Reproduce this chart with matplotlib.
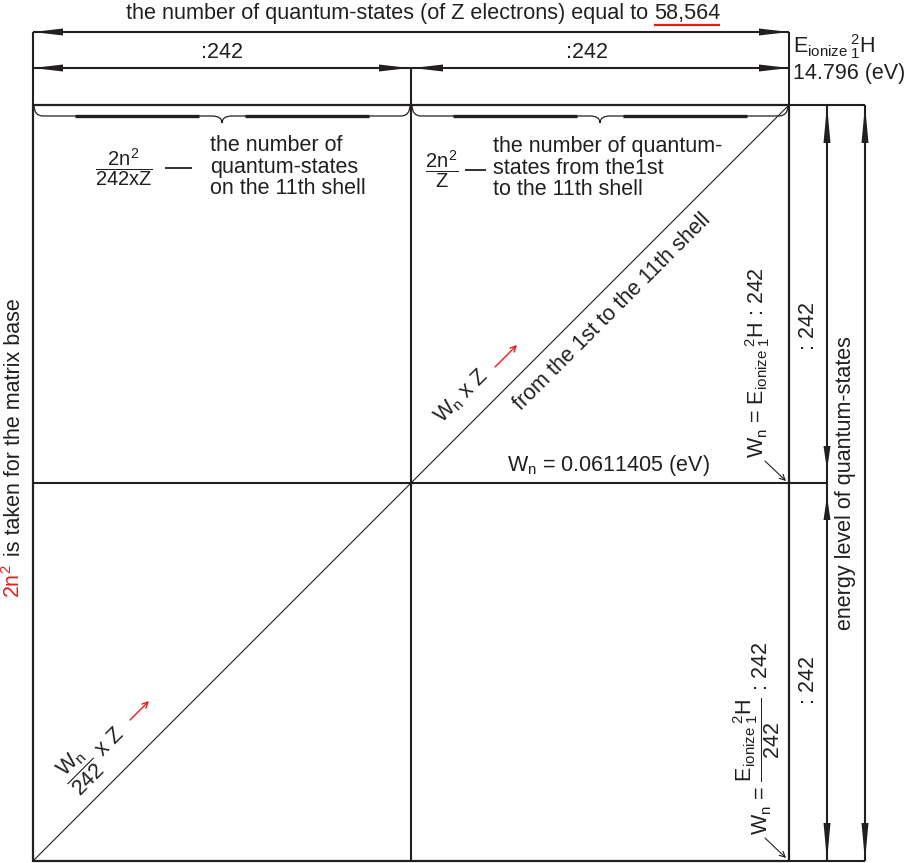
import matplotlib
matplotlib.use('Agg')
import numpy as np
import matplotlib.pyplot as plt
from matplotlib.path import Path
from matplotlib.patches import PathPatch, Polygon

plt.rcParams['font.family'] = ['Liberation Sans', 'DejaVu Sans']
plt.rcParams['mathtext.fontset'] = 'custom'
plt.rcParams['mathtext.rm'] = 'Liberation Sans'
plt.rcParams['mathtext.it'] = 'Liberation Sans'
plt.rcParams['mathtext.bf'] = 'Liberation Sans:bold'

# values shown on the diagram
divisor = 242
total_states = '58,564'
e_ionize = '14.796'
w_n = '0.0611405'
shell = '11th'

title_txt = 'the number of quantum-states (of Z electrons) equal to'
left_label = 'is taken for the matrix base'
right_label = 'energy level of quantum-states'
tl_lines = ['the number of', 'quantum-states', 'on the %s shell' % shell]
tr_lines = ['the number of quantum-', 'states from the1st', 'to the %s shell' % shell]
diag_label = 'from the 1st to the %s shell' % shell

K = '#231f20'
FS = 15.5

W, H = 914, 863
fig = plt.figure(figsize=(W / 100, H / 100), dpi=100)
ax = fig.add_axes([0, 0, 1, 1])
ax.set_xlim(0, W)
ax.set_ylim(H, 0)
ax.axis('off')

# matrix square
L, R, T, B = 33, 789, 105, 861
MX, MY = (L + R) / 2, (T + B) / 2
X1, X2 = 827, 865


def line(xs, ys, lw=1.5, c=K):
    ax.plot(xs, ys, color=c, lw=lw, solid_capstyle='butt')


def head(x, y, dx, dy, length=30, width=7):
    d = np.array([dx, dy], float)
    d /= np.linalg.norm(d)
    p = np.array([-d[1], d[0]])
    base = np.array([x, y]) - d * length
    ax.add_patch(Polygon([(x, y), base + p * width / 2, base - p * width / 2],
                         closed=True, fc=K, ec='none'))


def brace(x0, x1, ytop=105, yh=116, ytip=123):
    m = (x0 + x1) / 2
    verts = [(x0 + 1, ytop), (x0 + 1, yh), (x0 + 10, yh), (m - 10, yh), (m, yh), (m, ytip),
             (m, yh), (m + 10, yh), (x1 - 10, yh), (x1 - 1, yh), (x1 - 1, ytop)]
    codes = [Path.MOVETO, Path.CURVE3, Path.CURVE3, Path.LINETO, Path.CURVE3, Path.CURVE3,
             Path.CURVE3, Path.CURVE3, Path.LINETO, Path.CURVE3, Path.CURVE3]
    ax.add_patch(PathPatch(Path(verts, codes), fc='none', ec=K, lw=0.9))
    w = x1 - x0
    line([x0 + 0.11 * w, x0 + 0.44 * w], [yh, yh], lw=2.4)
    line([x0 + 0.56 * w, x0 + 0.89 * w], [yh, yh], lw=2.4)


# frame, cross lines and diagonal
ax.add_patch(plt.Rectangle((L, T), R - L, B - T, fill=False, ec=K, lw=1.6))
line([MX, MX], [68, B])
line([L, X1], [MY, MY])
ax.plot([L, R], [B, T], color=K, lw=0.8)

# top dimension lines
line([L, L], [32, T])
line([R, R], [32, T])
line([L, R], [32, 32])
head(L, 32, -1, 0)
head(R, 32, 1, 0)
line([L, R], [68, 68])
head(L, 68, -1, 0)
head(MX - 2, 68, 1, 0)
head(MX + 2, 68, -1, 0)
head(R, 68, 1, 0)
brace(L, MX)
brace(MX, R)

# right dimension lines
line([R, X2], [T, T])
line([R, X2], [B, B])
line([X1, X1], [T, B])
line([X2, X2], [T, B])
head(X1, T, 0, -1, 38, 7)
head(X1, MY - 13, 0, 1, 24, 7)
head(X1, MY + 13, 0, -1, 24, 7)
head(X1, B, 0, 1, 38, 7)
head(X2, T, 0, -1, 38, 7)
head(X2, B, 0, 1, 38, 7)

fig.canvas.draw()
rend = fig.canvas.get_renderer()

# title with red underline under the number
ta = ax.text(0, 14, title_txt, fontsize=15.6, color=K, ha='left', va='center')
tb = ax.text(0, 14, total_states, fontsize=15.6, color=K, ha='left', va='center')
wa = ta.get_window_extent(rend).width
wb = tb.get_window_extent(rend).width
x0 = MX + 12 - (wa + wb + 6) / 2
ta.set_x(x0)
tb.set_x(x0 + wa + 6)
line([x0 + wa + 6, x0 + wa + 6 + wb], [25, 25], lw=1.6, c='#e0201e')

ax.text((L + MX) / 2, 52, ':%d' % divisor, fontsize=FS, color=K, ha='center', va='center')
ax.text((MX + R) / 2 - 13, 52, ':%d' % divisor, fontsize=FS, color=K, ha='center', va='center')
ax.text(793, 47, r'E$_{ionize}\,{}^{2}_{1}$H', fontsize=FS, color=K, ha='left', va='center')
ax.text(793, 73, '%s (eV)' % e_ionize, fontsize=FS, color=K, ha='left', va='center')

# upper-left quadrant
ax.text(124, 168, r'$\dfrac{2n^2}{%dxZ}$' % divisor, fontsize=14.5, color=K, ha='center', va='center')
line([165, 192], [168, 168], lw=1.3)
ax.text(210, 167, '\n'.join(tl_lines), fontsize=FS, color=K, ha='left', va='center', linespacing=1.05)

# upper-right quadrant
ax.text(442, 170, r'$\dfrac{2n^2}{Z}$', fontsize=14.5, color=K, ha='center', va='center')
line([465, 486], [170, 170], lw=1.3)
ax.text(493, 168, '\n'.join(tr_lines), fontsize=FS, color=K, ha='left', va='center', linespacing=1.05)

# diagonal labels
ax.text(462, 396, r'W$_n$ x Z', fontsize=FS, color=K, rotation=45, rotation_mode='anchor',
        ha='center', va='center')
ax.annotate('', xy=(517, 345), xytext=(495, 367),
            arrowprops=dict(arrowstyle='->', color='#e0201e', lw=1, mutation_scale=10, shrinkA=0, shrinkB=0))
ax.text(612, 312, diag_label, fontsize=FS, color=K, rotation=45, rotation_mode='anchor',
        ha='center', va='center')
ax.text(93, 757, r'$\dfrac{W_n}{%d}$ x Z' % divisor, fontsize=FS, color=K, rotation=45,
        rotation_mode='anchor', ha='center', va='center')
ax.annotate('', xy=(149, 701), xytext=(130, 720),
            arrowprops=dict(arrowstyle='->', color='#e0201e', lw=1, mutation_scale=10, shrinkA=0, shrinkB=0))

ax.text(710, 465, r'W$_n$ = %s (eV)' % w_n, fontsize=FS, color=K, ha='right', va='center')

# right column expressions
ax.text(758, 458, r'W$_n$ = E$_{ionize}\,{}^{2}_{1}$H : %d' % divisor, fontsize=FS, color=K,
        rotation=90, rotation_mode='anchor', ha='left', va='center')
ax.annotate('', xy=(786, 481), xytext=(765, 461),
            arrowprops=dict(arrowstyle='->', color=K, lw=0.8, mutation_scale=10, shrinkA=0, shrinkB=0))
ax.text(757, 835, r'W$_n$ = $\dfrac{E_{ionize}\,{}^{2}_{1}H}{%d}$ : %d' % (divisor, divisor),
        fontsize=FS, color=K, rotation=90, rotation_mode='anchor', ha='left', va='center')
ax.annotate('', xy=(786, 858), xytext=(765, 838),
            arrowprops=dict(arrowstyle='->', color=K, lw=0.8, mutation_scale=10, shrinkA=0, shrinkB=0))

ax.text(808, (T + MY) / 2 + 32, ': %d' % divisor, fontsize=FS, color=K, rotation=90, ha='center', va='center')
ax.text(808, (MY + B) / 2 + 8, ': %d' % divisor, fontsize=FS, color=K, rotation=90, ha='center', va='center')
ax.text(846, MY, right_label, fontsize=FS, color=K, rotation=90, ha='center', va='center')

# left label: red 2n^2 then black text
tr = ax.text(14, 598, r'2n$^2$', fontsize=FS, color='#e0201e', rotation=90,
             rotation_mode='anchor', ha='left', va='center')
hr = tr.get_window_extent(rend).height
ax.text(14, 598 - hr - 8, left_label, fontsize=FS, color=K, rotation=90,
        rotation_mode='anchor', ha='left', va='center')

fig.savefig('out.png', dpi=100)
